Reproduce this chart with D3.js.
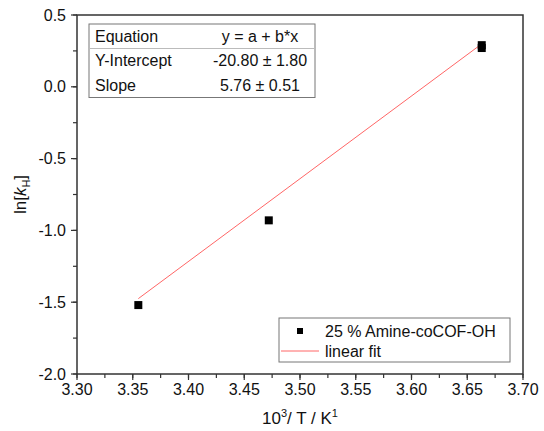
<!DOCTYPE html>
<html>
<head>
<meta charset="utf-8">
<script src="https://cdn.jsdelivr.net/npm/d3@7"></script>
<style>
  body { margin: 0; background: #fff; }
  svg { font-family: "Liberation Sans", Arial, sans-serif; }
</style>
</head>
<body>
<svg id="chart" width="544" height="431"></svg>
<script>
// data
const xValues = [3.355, 3.472, 3.663, 3.663];
const yValues = [-1.52, -0.93, 0.29, 0.27];
const fitIntercept = -20.80;
const fitSlope = 5.76;
const tableRows = [
    ["Equation", "y = a + b*x"],
    ["Y-Intercept", "-20.80 \u00b1 1.80"],
    ["Slope", "5.76 \u00b1 0.51"]
];
const xTicks = [3.30, 3.35, 3.40, 3.45, 3.50, 3.55, 3.60, 3.65, 3.70];
const yTicks = [-2.0, -1.5, -1.0, -0.5, 0.0, 0.5];
const seriesName = "25 % Amine-coCOF-OH";
const fitName = "linear fit";

const svg = d3.select("#chart");
const margin = {top: 15, right: 21, bottom: 57, left: 77};
const W = 544, H = 431;

const x = d3.scaleLinear().domain([3.30, 3.70]).range([margin.left, W - margin.right]);
const y = d3.scaleLinear().domain([-2.0, 0.5]).range([H - margin.bottom, margin.top]);

const axisColor = "#333";
const fs = 16;
const fmtY = d => d3.format(".1f")(d).replace("\u2212", "-");

// frame
svg.append("rect")
    .attr("x", x(3.30)).attr("y", y(0.5))
    .attr("width", x(3.70) - x(3.30)).attr("height", y(-2.0) - y(0.5))
    .attr("fill", "none").attr("stroke", axisColor).attr("stroke-width", 1.5);

// x axis
const xMinor = d3.range(0, 17).map(i => 3.30 + i * 0.025);
const gx = svg.append("g").attr("transform", `translate(0,${y(-2.0)})`);
gx.selectAll("line.minor").data(xMinor).join("line")
    .attr("x1", d => x(d)).attr("x2", d => x(d))
    .attr("y1", 0).attr("y2", 4)
    .attr("stroke", axisColor).attr("stroke-width", 1.2);
gx.selectAll("line.major").data(xTicks).join("line")
    .attr("x1", d => x(d)).attr("x2", d => x(d))
    .attr("y1", 0).attr("y2", 6)
    .attr("stroke", axisColor).attr("stroke-width", 1.2);
gx.selectAll("text").data(xTicks).join("text")
    .attr("x", d => x(d)).attr("y", 10)
    .attr("dy", "0.71em")
    .attr("text-anchor", "middle")
    .attr("font-size", fs).attr("fill", "#111")
    .text(d => d3.format(".2f")(d));

// y axis
const yMinor = d3.range(0, 11).map(i => -2.0 + i * 0.25);
const gy = svg.append("g").attr("transform", `translate(${x(3.30)},0)`);
gy.selectAll("line.minor").data(yMinor).join("line")
    .attr("y1", d => y(d)).attr("y2", d => y(d))
    .attr("x1", 0).attr("x2", -4)
    .attr("stroke", axisColor).attr("stroke-width", 1.2);
gy.selectAll("line.major").data(yTicks).join("line")
    .attr("y1", d => y(d)).attr("y2", d => y(d))
    .attr("x1", 0).attr("x2", -6)
    .attr("stroke", axisColor).attr("stroke-width", 1.2);
gy.selectAll("text").data(yTicks).join("text")
    .attr("x", -11).attr("y", d => y(d))
    .attr("dy", "0.35em")
    .attr("text-anchor", "end")
    .attr("font-size", fs).attr("fill", "#111")
    .text(fmtY);

// axis titles
const xt = svg.append("text")
    .attr("x", x(3.50)).attr("y", 424)
    .attr("text-anchor", "middle")
    .attr("font-size", 17).attr("fill", "#111");
xt.append("tspan").text("10");
xt.append("tspan").attr("font-size", 11).attr("dy", -7).text("3");
xt.append("tspan").attr("dy", 7).text("/ T / K");
xt.append("tspan").attr("font-size", 11).attr("dy", -7).text("1");

const yt = svg.append("text")
    .attr("transform", `translate(26,${y(-0.75)}) rotate(-90)`)
    .attr("text-anchor", "middle")
    .attr("font-size", 17).attr("fill", "#111");
yt.append("tspan").text("ln[");
yt.append("tspan").attr("font-style", "italic").text("k");
yt.append("tspan").attr("font-size", 11).attr("dy", 4).text("H");
yt.append("tspan").attr("dy", -4).text("]");

// linear fit
const fitX = d3.extent(xValues);
svg.append("line")
    .attr("x1", x(fitX[0])).attr("y1", y(fitIntercept + fitSlope * fitX[0]))
    .attr("x2", x(fitX[1])).attr("y2", y(fitIntercept + fitSlope * fitX[1]))
    .attr("stroke", "#ff6666").attr("stroke-width", 1);

// points
const pts = xValues.map((v, i) => [v, yValues[i]]);
svg.selectAll("rect.pt").data(pts).join("rect")
    .attr("class", "pt")
    .attr("x", d => x(d[0]) - 4).attr("y", d => y(d[1]) - 4)
    .attr("width", 8).attr("height", 8)
    .attr("fill", "#000");

// parameter table
const tb = svg.append("g");
const tx0 = 89, ty0 = 24, tw = 226, rowH = 24.5;
tb.append("rect")
    .attr("x", tx0).attr("y", ty0).attr("width", tw).attr("height", rowH * 3)
    .attr("fill", "#fff").attr("stroke", "#777").attr("stroke-width", 1);
tb.append("line")
    .attr("x1", tx0).attr("x2", tx0 + tw)
    .attr("y1", ty0 + rowH).attr("y2", ty0 + rowH)
    .attr("stroke", "#bbb");
tableRows.forEach((r, i) => {
    const cy = ty0 + rowH * i + rowH / 2;
    tb.append("text").attr("x", tx0 + 6).attr("y", cy).attr("dy", "0.35em")
        .attr("font-size", fs).attr("fill", "#111").text(r[0]);
    tb.append("text").attr("x", 260).attr("y", cy).attr("dy", "0.35em")
        .attr("text-anchor", "middle")
        .attr("font-size", fs).attr("fill", "#111").text(r[1]);
});

// legend
const lg = svg.append("g");
lg.append("rect")
    .attr("x", 279).attr("y", 318).attr("width", 231).attr("height", 44)
    .attr("fill", "#fff").attr("stroke", "#777").attr("stroke-width", 1);
lg.append("rect").attr("x", 297).attr("y", 328).attr("width", 6).attr("height", 6).attr("fill", "#000");
lg.append("text").attr("x", 325).attr("y", 331).attr("dy", "0.35em")
    .attr("font-size", fs).attr("fill", "#111").text(seriesName);
lg.append("line").attr("x1", 281).attr("x2", 319).attr("y1", 351).attr("y2", 351)
    .attr("stroke", "#ff6666").attr("stroke-width", 1);
lg.append("text").attr("x", 325).attr("y", 351).attr("dy", "0.35em")
    .attr("font-size", fs).attr("fill", "#111").text(fitName);
</script>
</body>
</html>
